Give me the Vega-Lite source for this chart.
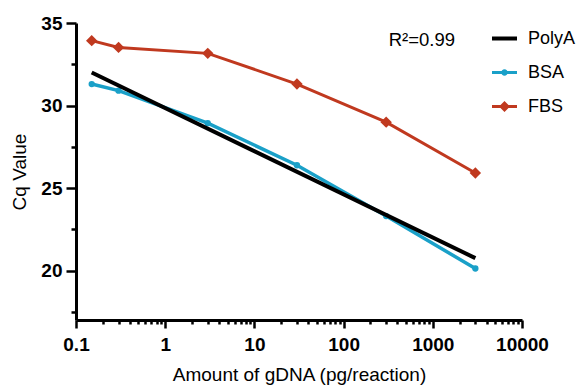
{
  "$schema": "https://vega.github.io/schema/vega-lite/v6.json",
  "autosize": {"type": "none"},
  "padding": {"left": 76, "top": 23, "right": 57, "bottom": 67},
  "width": 446,
  "height": 297,
  "background": "white",
  "data": {
    "values": [
      {"series": "PolyA", "x": 0.15, "y": 32.0},
      {"series": "PolyA", "x": 3000, "y": 20.75},
      {"series": "BSA", "x": 0.15, "y": 31.3},
      {"series": "BSA", "x": 0.3, "y": 30.9},
      {"series": "BSA", "x": 3, "y": 28.93},
      {"series": "BSA", "x": 30, "y": 26.38},
      {"series": "BSA", "x": 300, "y": 23.3},
      {"series": "BSA", "x": 3000, "y": 20.12},
      {"series": "FBS", "x": 0.15, "y": 33.93},
      {"series": "FBS", "x": 0.3, "y": 33.52},
      {"series": "FBS", "x": 3, "y": 33.16},
      {"series": "FBS", "x": 30, "y": 31.3},
      {"series": "FBS", "x": 300, "y": 28.99},
      {"series": "FBS", "x": 3000, "y": 25.91}
    ]
  },
  "resolve": {"axis": {"x": "independent", "y": "independent"}},
  "layer": [
    {
      "encoding": {
        "x": {"field": "x", "type": "quantitative", "scale": {"type": "log", "domain": [0.1, 10000], "nice": false}, "axis": null},
        "y": {"field": "y", "type": "quantitative", "scale": {"domain": [17, 35], "nice": false, "zero": false}, "axis": null}
      },
      "layer": [
        {
          "transform": [{"filter": "datum.series === 'BSA'"}],
          "mark": {"type": "line", "color": "#1aa0c8", "strokeWidth": 3.5},
          "encoding": {}
        },
        {
          "transform": [{"filter": "datum.series === 'BSA'"}],
          "mark": {"type": "point", "shape": "circle", "filled": true, "color": "#1aa0c8", "opacity": 1, "size": 40},
          "encoding": {}
        },
        {
          "transform": [{"filter": "datum.series === 'PolyA'"}],
          "mark": {"type": "line", "color": "#000000", "strokeWidth": 4},
          "encoding": {}
        },
        {
          "transform": [{"filter": "datum.series === 'FBS'"}],
          "mark": {"type": "line", "color": "#c0391f", "strokeWidth": 3},
          "encoding": {}
        },
        {
          "transform": [{"filter": "datum.series === 'FBS'"}],
          "mark": {"type": "point", "shape": "diamond", "filled": true, "color": "#c0391f", "opacity": 1, "size": 130},
          "encoding": {}
        },
        {
          "data": {"values": [{"label": "R²=0.99", "x": 320, "y": 34}]},
          "mark": {"type": "text", "align": "left", "baseline": "middle", "font": "Liberation Sans", "fontSize": 18.5, "color": "black"},
          "encoding": {"text": {"field": "label"}}
        },
        {
          "mark": {"type": "point", "filled": true, "opacity": 0},
          "encoding": {
            "color": {
              "field": "series", "type": "nominal",
              "scale": {"domain": ["PolyA", "BSA", "FBS"], "range": ["#000000", "#1aa0c8", "#c0391f"]},
              "legend": {"title": null}
            },
            "shape": {
              "field": "series", "type": "nominal",
              "scale": {"domain": ["PolyA", "BSA", "FBS"], "range": [
                "M-1,-0.16H1V0.16H-1Z",
                "M-1,-0.12H1V0.12H-1Z M-0.26,0A0.26,0.26 0 1,1 0.26,0A0.26,0.26 0 1,1 -0.26,0Z",
                "M-1,-0.12H1V0.12H-1Z M0,-0.44L0.44,0L0,0.44L-0.44,0Z"
              ]},
              "legend": {"title": null}
            }
          }
        }
      ]
    },
    {
      "mark": {"type": "point", "opacity": 0},
      "encoding": {
        "x": {
          "field": "x", "type": "quantitative",
          "axis": {
            "orient": "bottom",
            "zindex": 1,
            "title": "Amount of gDNA (pg/reaction)",
            "values": [0.1, 1, 10, 100, 1000, 10000],
            "labelExpr": "datum.value < 1 ? '0.1' : format(datum.value, 'd')",
            "tickSize": 8,
            "grid": false,
            "labelFlush": false,
            "labelPadding": 7,
            "titlePadding": 11,
            "domainColor": "#000000", "domainWidth": 3,
            "tickColor": "#000000", "tickWidth": 2.5,
            "labelFont": "Liberation Sans", "labelFontWeight": "bold", "labelColor": "#000000", "labelFontSize": 19,
            "titleFont": "Liberation Sans", "titleFontSize": 19, "titleFontWeight": "normal", "titleColor": "#000000"
          }
        },
        "y": {
          "field": "y", "type": "quantitative",
          "axis": {
            "orient": "left",
            "zindex": 1,
            "title": "Cq Value",
            "values": [20, 25, 30, 35],
            "tickSize": 10,
            "grid": false,
            "labelPadding": 4,
            "titlePadding": 11,
            "domainColor": "#000000", "domainWidth": 3,
            "tickColor": "#000000", "tickWidth": 2.5,
            "labelFont": "Liberation Sans", "labelFontWeight": "bold", "labelColor": "#000000", "labelFontSize": 19,
            "titleFont": "Liberation Sans", "titleFontSize": 19, "titleFontWeight": "normal", "titleColor": "#000000"
          }
        }
      }
    },
    {
      "mark": {"type": "point", "opacity": 0},
      "encoding": {
        "x": {
          "field": "x", "type": "quantitative",
          "axis": {
            "orient": "bottom",
            "zindex": 1,
            "title": null,
            "values": [0.2,0.3,0.4,0.5,0.6,0.7,0.8,0.9,2,3,4,5,6,7,8,9,20,30,40,50,60,70,80,90,200,300,400,500,600,700,800,900,2000,3000,4000,5000,6000,7000,8000,9000],
            "labels": false,
            "domain": false,
            "grid": false,
            "tickSize": 4,
            "tickColor": "#000000", "tickWidth": 2.5
          }
        },
        "y": {
          "field": "y", "type": "quantitative",
          "axis": {
            "orient": "left",
            "zindex": 1,
            "title": null,
            "values": [17.5, 22.5, 27.5, 32.5],
            "labels": false,
            "domain": false,
            "grid": false,
            "tickSize": 5,
            "tickColor": "#000000", "tickWidth": 2.5
          }
        }
      }
    }
  ],
  "config": {
    "view": {"stroke": null},
    "legend": {
      "orient": "none", "legendX": 416, "legendY": 3,
      "padding": 0,
      "labelFont": "Liberation Sans", "labelFontSize": 18, "labelColor": "#000000",
      "symbolSize": 625, "symbolStrokeWidth": 0, "symbolOpacity": 1,
      "labelOffset": 11, "rowPadding": 12
    }
  }
}
